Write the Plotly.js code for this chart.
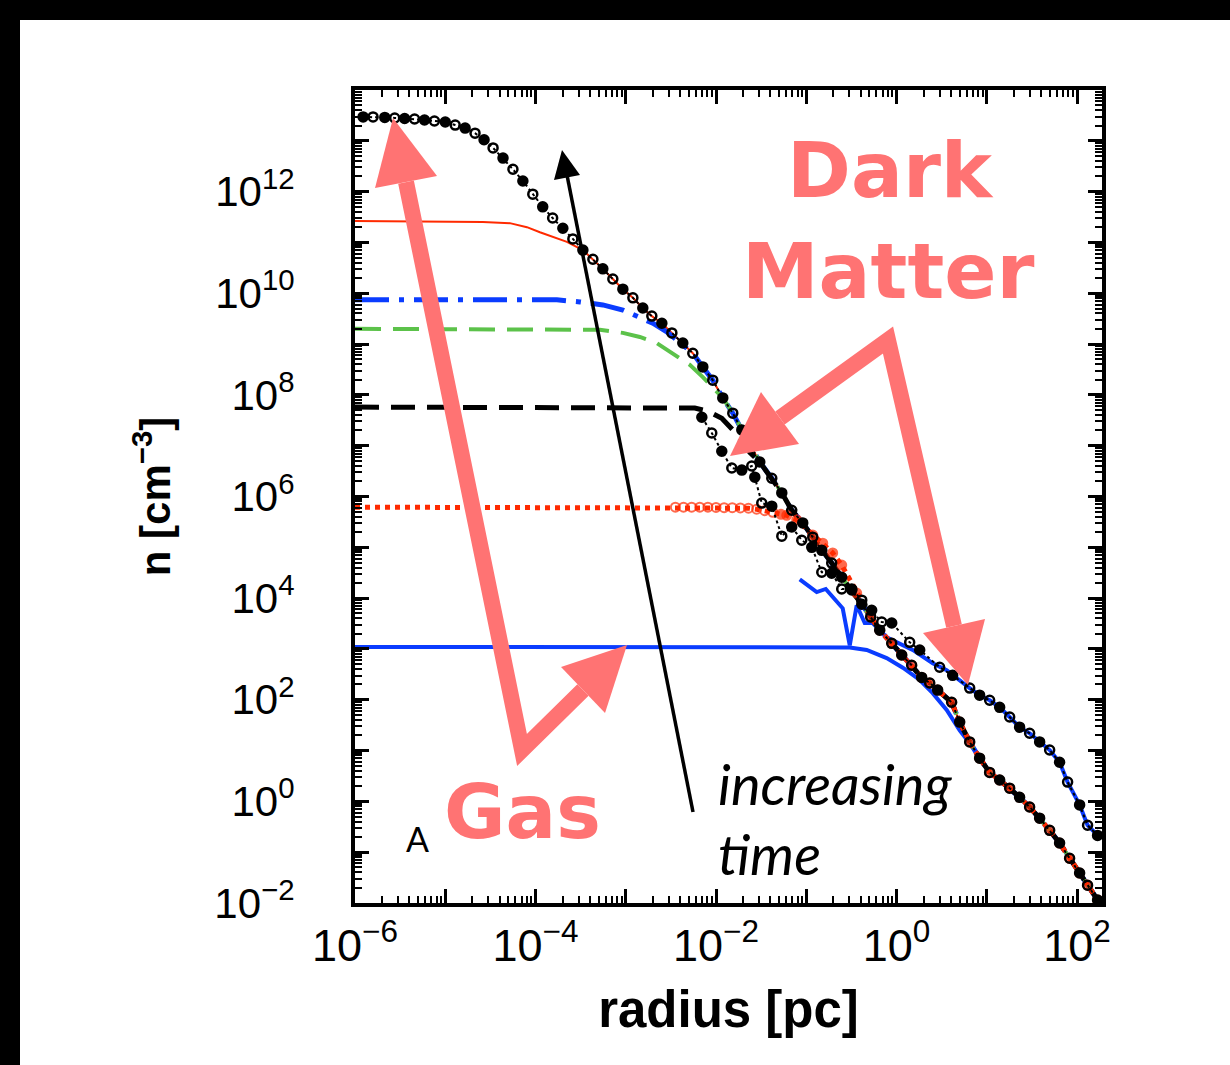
<!DOCTYPE html>
<html>
<head>
<meta charset="utf-8">
<script src="https://cdn.plot.ly/plotly-3.0.1.min.js"></script>
<style>
  html, body { margin: 0; padding: 0; background: #000; width: 1230px; height: 1065px; overflow: hidden; }
  #chart { position: absolute; left: 20px; top: 20px; width: 1210px; height: 1045px; background: #fff; }
</style>
</head>
<body>
<div id="chart"></div>
<script>
// ---- data (log10 of radius [pc] and log10 of n [cm^-3]) ----
// shared collapsed trunk
const trunkLogR = [-3.697,-3.586,-3.475,-3.364,-3.254,-3.143,-3.032,-2.921,-2.811,-2.711,-2.600,-2.489,-2.368,-2.257,-2.146,-2.036,-1.925,-1.814,-1.714,-1.615,-1.515,-1.382,-1.271,-1.161,-1.039,-0.928,-0.828,-0.718,-0.607,-0.496,-0.385];
const trunkLogN = [11.28,11.07,10.85,10.67,10.48,10.28,10.08,9.91,9.71,9.55,9.41,9.22,9.02,8.82,8.55,8.29,7.94,7.64,7.31,6.99,6.68,6.36,6.07,5.73,5.48,5.20,4.94,4.69,4.41,4.16,3.88];
// gas, outer region
const gasOuterLogR = [-0.286,-0.186,-0.053,0.058,0.168,0.279,0.368,0.456,0.611,0.700,0.811,0.921,1.032,1.143,1.254,1.364,1.475,1.586,1.697,1.807,1.918,2.029,2.117,2.228];
const gasOuterLogN = [3.63,3.37,3.11,2.88,2.68,2.44,2.33,2.19,1.95,1.56,1.17,0.85,0.57,0.42,0.26,0.08,-0.11,-0.33,-0.57,-0.82,-1.12,-1.41,-1.65,-1.94];
// dark matter, outer region
const dmOuterLogR = [-0.053,0.146,0.257,0.478,0.622,0.811,0.921,1.032,1.143,1.254,1.364,1.475,1.586,1.697,1.807,1.896,2.029,2.117,2.228];
const dmOuterLogN = [3.51,3.13,2.98,2.64,2.48,2.23,2.09,1.99,1.85,1.66,1.46,1.34,1.17,1.01,0.77,0.38,-0.07,-0.47,-0.67];

// inner parts of each gas profile (earliest -> latest)
const gasBlueLogR = [-6,-0.75,-0.518,-0.33,-0.109,0.07,0.25,0.401,0.556,0.700,0.844];
const gasBlueLogN = [3.04,3.04,3.03,2.98,2.82,2.63,2.40,2.13,1.80,1.40,1.07];
const gasRedDotLogR = [-6,-4.5,-3.5,-2.6,-2.45,-2.36,-2.27,-2.18,-2.09,-2.00,-1.91,-1.82,-1.73,-1.64,-1.55,-1.46,-1.37,-1.28,-1.216,-1.105,-0.928,-0.817,-0.707,-0.607,-0.441];
const gasRedDotLogN = [5.79,5.79,5.79,5.79,5.79,5.79,5.79,5.79,5.79,5.785,5.78,5.78,5.775,5.77,5.75,5.72,5.69,5.65,5.63,5.54,5.24,5.08,4.89,4.65,4.10];
const gasBlackDashLogR = [-6,-2.401,-2.235,-2.091,-1.936,-1.792,-1.626];
const gasBlackDashLogN = [7.76,7.72,7.74,7.68,7.54,7.27,6.87];
const gasGreenLogR = [-6,-3.287,-3.032,-2.844,-2.656,-2.478,-2.290,-2.146];
const gasGreenLogN = [9.30,9.28,9.22,9.14,9.02,8.82,8.59,8.35];
const gasBlueDashDotLogR = [-6,-3.763,-3.508,-3.254,-3.032,-2.844,-2.700,-2.545,-2.401];
const gasBlueDashDotLogN = [9.87,9.87,9.83,9.77,9.67,9.53,9.41,9.24,9.04];
const gasRedLogR = [-6,-4.583,-4.284,-4.095,-3.951,-3.807,-3.652];
const gasRedLogN = [11.42,11.40,11.38,11.30,11.20,11.11,11.01];
const gasBlackDotLogR = [-5.91,-5.80,-5.67,-5.56,-5.45,-5.34,-5.23,-5.12,-5.00,-4.89,-4.78,-4.67,-4.57,-4.47,-4.36,-4.25,-4.14,-4.03,-3.92,-3.81];
const gasBlackDotLogN = [13.47,13.47,13.46,13.45,13.44,13.43,13.41,13.39,13.37,13.31,13.25,13.15,13.02,12.86,12.66,12.44,12.21,11.95,11.70,11.48];

// dark matter inner parts
const dmBlueLogR = [-1.072,-0.884,-0.784,-0.596,-0.518,-0.441,-0.352,-0.264,-0.109,0.035,0.179,0.401,0.556,0.811];
const dmBlueLogN = [4.37,4.12,4.18,3.80,3.07,3.86,3.51,3.51,3.23,3.11,2.98,2.72,2.58,2.23];
const dmBlackLogR = [-2.157,-2.047,-1.936,-1.825,-1.714,-1.604,-1.570,-1.493,-1.382,-1.271,-1.161,-1.050,-0.939,-0.828,-0.718,-0.607,-0.496,-0.385,-0.275,-0.164];
const dmBlackLogN = [7.56,7.25,6.89,6.56,6.52,6.60,6.38,5.87,5.81,5.22,5.40,5.14,5.00,4.51,4.49,4.18,4.18,3.96,3.76,3.53];

// tick labels (labelled decades) and unlabelled major decades
const xTickExp = [-6,-4,-2,0,2];
const xTickText = ['10<sup>\u22126</sup>','10<sup>\u22124</sup>','10<sup>\u22122</sup>','10<sup>0</sup>','10<sup>2</sup>'];
const xOddExp = [-5,-3,-1,1];
const yTickExp = [-2,0,2,4,6,8,10,12];
const yTickText = ['10<sup>\u22122</sup>','10<sup>0</sup>','10<sup>2</sup>','10<sup>4</sup>','10<sup>6</sup>','10<sup>8</sup>','10<sup>10</sup>','10<sup>12</sup>'];
const yOddExp = [-1,1,3,5,7,9,11,13,14];

// ---- helpers ----
const pow10 = a => a.map(v => Math.pow(10, v));
function join(r1, n1, r2, n2, fromR) {
  const R = r1.slice(), N = n1.slice();
  r2.forEach((r, i) => { if (r >= fromR) { R.push(r); N.push(n2[i]); } });
  return [R, N];
}
function chain(rIn, nIn, startTrunk, outerR, outerN, startOuter) {
  let [R, N] = join(rIn, nIn, trunkLogR, trunkLogN, startTrunk);
  [R, N] = join(R, N, outerR, outerN, startOuter);
  return [R, N];
}

const BLUE = '#0a3cff', RED = '#ff2a00', GREEN = '#5cc24a', BLACK = '#000000', CORAL = '#ff7373';

const traces = [];
function addTrace(R, N, opts) {
  traces.push(Object.assign({ x: pow10(R), y: pow10(N), type: 'scatter', mode: 'lines', hoverinfo: 'skip', showlegend: false }, opts));
}

// gas, blue solid
{ const [R, N] = join(gasBlueLogR, gasBlueLogN, gasOuterLogR, gasOuterLogN, 1.0);
  addTrace(R, N, { line: { color: BLUE, width: 4 } }); }
// dark matter, blue solid
{ const [R, N] = join(dmBlueLogR, dmBlueLogN, dmOuterLogR, dmOuterLogN, 0.9);
  addTrace(R, N, { line: { color: BLUE, width: 4 } }); }
// gas, red solid
{ const [R, N] = chain(gasRedLogR, gasRedLogN, -3.5, gasOuterLogR, gasOuterLogN, -0.3);
  addTrace(R, N, { line: { color: RED, width: 2 } }); }
// gas, blue dash-dot
{ const [R, N] = chain(gasBlueDashDotLogR, gasBlueDashDotLogN, -2.3, gasOuterLogR, gasOuterLogN, -0.3);
  addTrace(R, N, { line: { color: BLUE, width: 5, dash: '34px,10px,5px,10px' } }); }
// gas, green long dash
{ const [R, N] = chain(gasGreenLogR, gasGreenLogN, -1.95, gasOuterLogR, gasOuterLogN, -0.3);
  addTrace(R, N, { line: { color: GREEN, width: 4, dash: '26px,12px' } }); }
// gas, black dash
{ const [R, N] = chain(gasBlackDashLogR, gasBlackDashLogN, -1.55, gasOuterLogR, gasOuterLogN, -0.3);
  addTrace(R, N, { line: { color: BLACK, width: 5, dash: '24px,12px' } }); }
// gas, red dotted with markers
{ const [R, N] = join(gasRedDotLogR, gasRedDotLogN, gasOuterLogR, gasOuterLogN, -0.3);
  addTrace(R, N, { mode: 'lines+markers', line: { color: RED, width: 5, dash: 'dot' },
    marker: { color: RED, size: R.map(r => r > -2.5 ? 9 : 0), symbol: R.map(r => r < -1.3 ? 'circle-open' : 'circle'), line: { color: RED, width: 2 } } }); }
// dark matter, black dotted with circles
{ const [R, N] = join(dmBlackLogR, dmBlackLogN, dmOuterLogR, dmOuterLogN, -0.06);
  addTrace(R, N, { mode: 'lines+markers', line: { color: BLACK, width: 2, dash: 'dot' },
    marker: { color: BLACK, size: 9, symbol: R.map((r, i) => i % 2 ? 'circle-open' : 'circle'), line: { color: BLACK, width: 2.5 } } }); }
// gas, black dotted with circles (latest)
{ const [R, N] = chain(gasBlackDotLogR, gasBlackDotLogN, -3.75, gasOuterLogR, gasOuterLogN, -0.3);
  addTrace(R, N, { mode: 'lines+markers', line: { color: BLACK, width: 2, dash: 'dot' },
    marker: { color: BLACK, size: 9, symbol: R.map((r, i) => i % 2 ? 'circle-open' : 'circle'), line: { color: BLACK, width: 2.5 } } }); }
// empty trace that carries the overlay axes holding the unlabelled decade ticks
traces.push({ x: [], y: [], type: 'scatter', mode: 'lines', xaxis: 'x2', yaxis: 'y2', hoverinfo: 'skip', showlegend: false });

// ---- decorations (pixel -> paper) ----
const X0 = 355, Y0 = 903, PW = 747, PH = 813;
const px = X => (X - X0) / PW, py = Y => (Y0 - Y) / PH;
const pt = (X, Y) => px(X).toFixed(4) + ',' + py(Y).toFixed(4);
const shapes = [
  // gas arrows
  { type: 'path', xref: 'paper', yref: 'paper', path: 'M' + pt(406,182) + ' L' + pt(522,750) + ' L' + pt(583,690),
    line: { color: CORAL, width: 16 }, fillcolor: 'rgba(0,0,0,0)' },
  { type: 'path', xref: 'paper', yref: 'paper', path: 'M' + pt(393,118) + ' L' + pt(375,188) + ' L' + pt(437,176) + ' Z',
    line: { width: 0 }, fillcolor: CORAL },
  { type: 'path', xref: 'paper', yref: 'paper', path: 'M' + pt(627,645) + ' L' + pt(561,667) + ' L' + pt(605,713) + ' Z',
    line: { width: 0 }, fillcolor: CORAL },
  // dark matter arrows
  { type: 'path', xref: 'paper', yref: 'paper', path: 'M' + pt(780,418) + ' L' + pt(888,340) + ' L' + pt(954,626),
    line: { color: CORAL, width: 16 }, fillcolor: 'rgba(0,0,0,0)' },
  { type: 'path', xref: 'paper', yref: 'paper', path: 'M' + pt(730,456) + ' L' + pt(761,392) + ' L' + pt(799,444) + ' Z',
    line: { width: 0 }, fillcolor: CORAL },
  { type: 'path', xref: 'paper', yref: 'paper', path: 'M' + pt(968,685) + ' L' + pt(923,633) + ' L' + pt(985,619) + ' Z',
    line: { width: 0 }, fillcolor: CORAL },
  // time arrow
  { type: 'path', xref: 'paper', yref: 'paper', path: 'M' + pt(693,812) + ' L' + pt(567,175),
    line: { color: BLACK, width: 3.5 }, fillcolor: 'rgba(0,0,0,0)' },
  { type: 'path', xref: 'paper', yref: 'paper', path: 'M' + pt(562,150) + ' L' + pt(554,180) + ' L' + pt(580,175) + ' Z',
    line: { width: 0 }, fillcolor: BLACK }
];

const boldFont = { family: '"DejaVu Sans", Lato, sans-serif', weight: 'bold', color: CORAL };
const gillFont = { family: 'Lato, "Open Sans", sans-serif', color: BLACK };
const annotations = [
  { text: 'Dark', x: px(890), y: py(170), font: Object.assign({ size: 77 }, boldFont) },
  { text: 'Matter', x: px(888), y: py(272), font: Object.assign({ size: 77 }, boldFont) },
  { text: 'Gas', x: px(522), y: py(812), font: Object.assign({ size: 75 }, boldFont) },
  { text: 'A', x: px(417), y: py(838), font: Object.assign({ size: 34 }, gillFont) },
  { text: 'increasing', x: px(716), y: py(783), xanchor: 'left', font: Object.assign({ size: 56, style: 'italic' }, gillFont) },
  { text: 'time', x: px(716), y: py(853), xanchor: 'left', font: Object.assign({ size: 56, style: 'italic' }, gillFont) }
].map(a => Object.assign({ xref: 'paper', yref: 'paper', showarrow: false, xanchor: 'center', yanchor: 'middle' }, a));

const xMinor = [], yMinor = [];
for (let e = -6; e <= 2; e++) for (let d = 2; d <= 9; d++) xMinor.push(d * Math.pow(10, e));
for (let e = -2; e < 14; e++) for (let d = 2; d <= 9; d++) yMinor.push(d * Math.pow(10, e));

const axisCommon = {
  type: 'log', tickmode: 'array', ticks: 'inside', ticklen: 14, tickwidth: 3, tickcolor: BLACK,
  showline: true, linewidth: 4, linecolor: BLACK, mirror: 'allticks', showgrid: false, zeroline: false
};
const minorCommon = { tickmode: 'array', ticks: 'inside', ticklen: 7, tickwidth: 2, tickcolor: BLACK, showgrid: false };
const X_RANGE = [-6, 2.277], Y_RANGE = [-2, 14];

const layout = {
  width: 1210, height: 1045,
  margin: { l: 335, r: 128, t: 70, b: 162, pad: 0 },
  paper_bgcolor: '#ffffff', plot_bgcolor: '#ffffff',
  font: { family: '"Liberation Sans", Arial, sans-serif', color: BLACK },
  xaxis: Object.assign({}, axisCommon, {
    range: X_RANGE, tickvals: pow10(xTickExp), ticktext: xTickText,
    minor: Object.assign({ tickvals: xMinor }, minorCommon),
    tickfont: { size: 45 }, ticklabelstandoff: 0,
    title: { text: '<b>radius [pc]</b>', font: { size: 51 }, standoff: 22 }
  }),
  yaxis: Object.assign({}, axisCommon, {
    range: Y_RANGE, tickvals: pow10(yTickExp), ticktext: yTickText,
    minor: Object.assign({ tickvals: yMinor }, minorCommon),
    tickfont: { size: 42 }, ticklabelstandoff: 48,
    title: { text: '<b>n [cm<sup>\u22123</sup>]</b>', font: { size: 42 }, standoff: 32 }
  }),
  xaxis2: Object.assign({}, axisCommon, {
    range: X_RANGE, tickvals: pow10(xOddExp), showticklabels: false, overlaying: 'x', anchor: 'y2', side: 'bottom'
  }),
  yaxis2: Object.assign({}, axisCommon, {
    range: Y_RANGE, tickvals: pow10(yOddExp), showticklabels: false, overlaying: 'y', anchor: 'x2', side: 'left'
  }),
  shapes: shapes,
  annotations: annotations,
  showlegend: false
};

Plotly.newPlot('chart', traces, layout, { staticPlot: true, displayModeBar: false });
</script>
</body>
</html>
